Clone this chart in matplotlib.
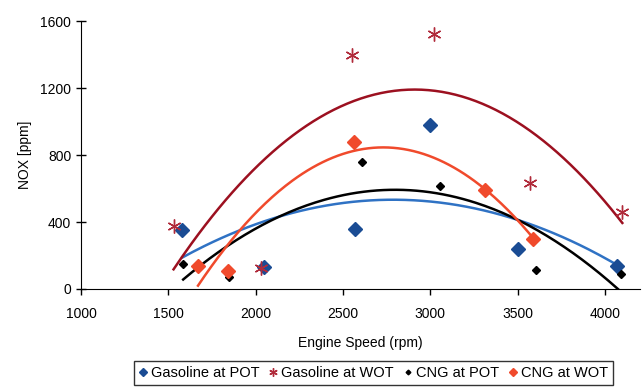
import numpy as np
import matplotlib
matplotlib.use("Agg")
import matplotlib.pyplot as plt

# Data
gas_pot_x = [1580, 2050, 2570, 3000, 3500, 4070]
gas_pot_y = [352, 131, 358, 980, 237, 135]

gas_wot_x = [1530, 2030, 2550, 3020, 3570, 4100]
gas_wot_y = [375, 128, 1400, 1520, 633, 458]

cng_pot_x = [1585, 1845, 2610, 3055, 3605, 4095]
cng_pot_y = [148, 70, 760, 618, 115, 92]

cng_wot_x = [1670, 1840, 2565, 3315, 3590]
cng_wot_y = [135, 107, 878, 591, 296]

x_ticks = [1000, 1500, 2000, 2500, 3000, 3500, 4000]
y_ticks = [0, 400, 800, 1200, 1600]

plt.rcParams['font.family'] = ['Liberation Sans', 'DejaVu Sans']

fig = plt.figure(figsize=(6.43, 3.90), dpi=100)
ax = fig.add_axes([0.126, 0.259, 0.869, 0.687])

series = [
    ("Gasoline at POT", gas_pot_x, gas_pot_y, dict(marker='D', ms=7, color='#1A4C94', ls='none'), '#2F72C4'),
    ("Gasoline at WOT", gas_wot_x, gas_wot_y, dict(marker=(6, 2, 0), ms=10, mew=1.0, color='#B02A3A', ls='none'), '#9C1020'),
    ("CNG at POT", cng_pot_x, cng_pot_y, dict(marker='D', ms=4, color='black', ls='none'), 'black'),
    ("CNG at WOT", cng_wot_x, cng_wot_y, dict(marker='D', ms=7, color='#F04A2C', ls='none'), '#F04A2C'),
]

handles = []
for label, xs, ys, mk, lc in series:
    xs = np.array(xs, float)
    ys = np.array(ys, float)
    coef = np.polyfit(xs, ys, 2)
    xx = np.linspace(xs.min(), xs.max(), 200)
    yy = np.polyval(coef, xx)
    ax.plot(xx, yy, color=lc, lw=1.8, zorder=2)
    h, = ax.plot(xs, ys, label=label, zorder=3, **mk)
    handles.append(h)

ax.set_xlim(1000, 4200)
ax.set_ylim(0, 1600)
ax.set_xticks(x_ticks)
ax.set_yticks(y_ticks)
ax.spines['top'].set_visible(False)
ax.spines['right'].set_visible(False)
ax.tick_params(axis='y', direction='inout', length=7, labelsize=10, width=1)
ax.tick_params(axis='x', direction='out', length=4, labelsize=10, width=1, pad=9)
ax.set_xlabel("Engine Speed (rpm)", fontsize=10, labelpad=11)
ax.set_ylabel("NOX [ppm]", fontsize=10, labelpad=6)

leg = fig.legend(handles=handles, loc='upper center', bbox_to_anchor=(0.581, 0.074),
                 ncol=4, fontsize=10.5, frameon=True, fancybox=False, edgecolor='black',
                 handlelength=0.5, handletextpad=0.3, columnspacing=0.7, borderpad=0.35,
                 borderaxespad=0, markerscale=0.6)
leg.get_frame().set_linewidth(1.0)

fig.savefig("out.png", dpi=100)
